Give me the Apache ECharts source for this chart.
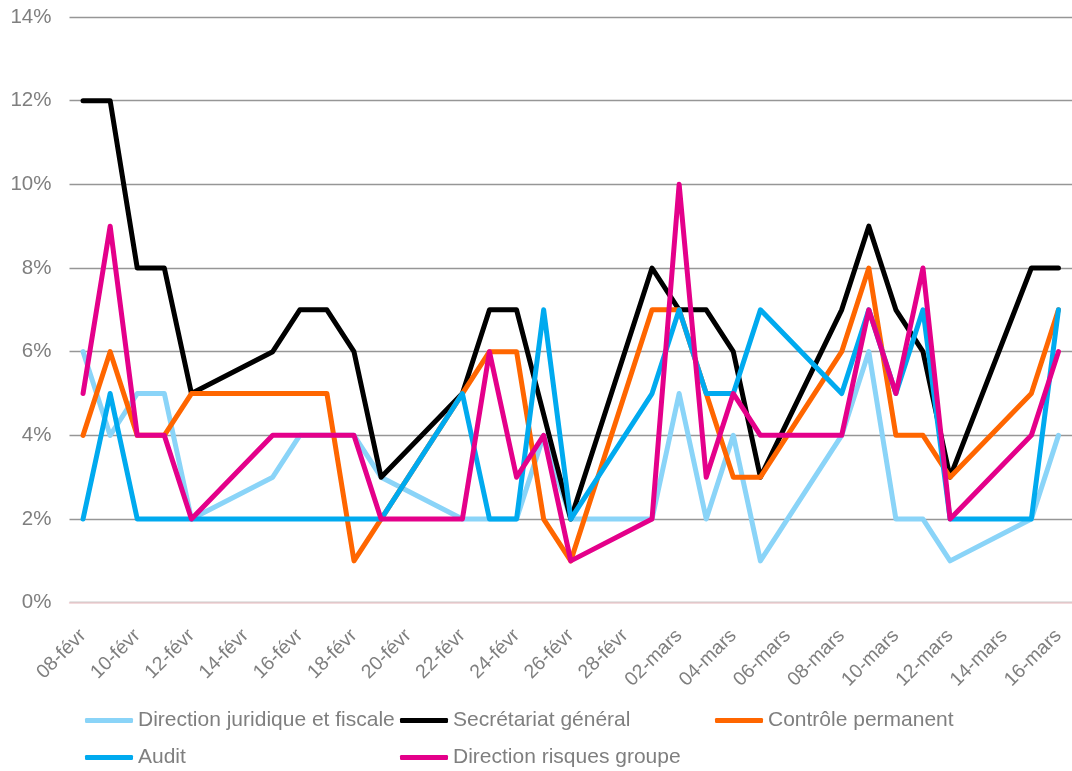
<!DOCTYPE html>
<html>
<head>
<meta charset="utf-8">
<script src="https://cdn.jsdelivr.net/npm/echarts@6/dist/echarts.min.js"></script>
<style>
  html, body { margin: 0; padding: 0; background: #fff; }
  #chart { width: 1072px; height: 771px; }
</style>
</head>
<body>
<div id="chart"></div>
<script>
// one label per calendar day, weekends have no value
const days = [
  '08-févr', '09-févr', '10-févr', '11-févr', '12-févr', '13-févr', '14-févr',
  '15-févr', '16-févr', '17-févr', '18-févr', '19-févr', '20-févr', '21-févr',
  '22-févr', '23-févr', '24-févr', '25-févr', '26-févr', '27-févr', '28-févr',
  '01-mars', '02-mars', '03-mars', '04-mars', '05-mars', '06-mars', '07-mars',
  '08-mars', '09-mars', '10-mars', '11-mars', '12-mars', '13-mars', '14-mars',
  '15-mars', '16-mars'
];

const n = null;
const juridique = [6, 4, 5, 5, 2, n, n, 3, 4, 4, 4, 3, n, n, 2, 2, 2, 4, 2, n, n, 2, 5, 2, 4, 1, n, n, 4, 6, 2, 2, 1, n, n, 2, 4];
const secretariat = [12, 12, 8, 8, 5, n, n, 6, 7, 7, 6, 3, n, n, 5, 7, 7, 4.5, 2, n, n, 8, 7, 7, 6, 3, n, n, 7, 9, 7, 6, 3, n, n, 8, 8];
const controle = [4, 6, 4, 4, 5, n, n, 5, 5, 5, 1, 2, n, n, 5, 6, 6, 2, 1, n, n, 7, 7, 5, 3, 3, n, n, 6, 8, 4, 4, 3, n, n, 5, 7];
const audit = [2, 5, 2, 2, 2, n, n, 2, 2, 2, 2, 2, n, n, 5, 2, 2, 7, 2, n, n, 5, 7, 5, 5, 7, n, n, 5, 7, 5, 7, 2, n, n, 2, 7];
const risques = [5, 9, 4, 4, 2, n, n, 4, 4, 4, 4, 2, n, n, 2, 6, 3, 4, 1, n, n, 2, 10, 3, 5, 4, n, n, 4, 7, 5, 8, 2, n, n, 4, 6];

const seriesNames = [
  'Direction juridique et fiscale',
  'Secrétariat général',
  'Contrôle permanent',
  'Audit',
  'Direction risques groupe'
];
const seriesValues = [juridique, secretariat, controle, audit, risques];
const colors = ['#8ad4f8', '#000000', '#ff6600', '#00aaef', '#e4008a'];

const font = "'Liberation Sans', Arial, sans-serif";
const grey = '#7f7f7f';

const chart = echarts.init(document.getElementById('chart'));

// legend laid out like the excel one: fixed columns
const legendPos = [
  { left: 85, top: 710 },
  { left: 400, top: 710 },
  { left: 715, top: 710 },
  { left: 85, top: 747 },
  { left: 400, top: 747 }
];
const legends = seriesNames.map(function (name, i) {
  return {
    data: [{ name: name, icon: 'roundRect' }],
    left: legendPos[i].left,
    top: legendPos[i].top,
    padding: 0,
    itemWidth: 48,
    itemHeight: 5,
    selectedMode: false,
    textStyle: { fontFamily: font, fontSize: 21, color: grey }
  };
});

const option = {
  animation: false,
  color: colors,
  legend: legends,
  grid: {
    left: 69.5,
    right: -7.5,
    top: 17,
    bottom: 168.3,
    containLabel: false
  },
  xAxis: {
    type: 'category',
    data: days,
    boundaryGap: true,
    axisLine: { lineStyle: { color: '#f9d9dc', width: 1.5 } },
    axisTick: { interval: 1, length: 5, lineStyle: { color: '#f9d9dc', width: 1.5 } },
    axisLabel: {
      interval: 1,
      rotate: 45,
      margin: 30,
      fontFamily: font,
      fontSize: 19.5,
      color: grey
    }
  },
  yAxis: {
    type: 'value',
    min: 0,
    max: 14,
    interval: 2,
    axisLine: { show: false },
    axisTick: { show: false },
    axisLabel: {
      formatter: '{value}%',
      margin: 18,
      fontFamily: font,
      fontSize: 20.5,
      color: grey
    },
    splitLine: { lineStyle: { color: '#969696', width: 1.3 } }
  },
  series: seriesNames.map(function (name, i) {
    return {
      name: name,
      type: 'line',
      data: seriesValues[i],
      connectNulls: true,
      symbol: 'none',
      lineStyle: { width: 5, color: colors[i], cap: 'round', join: 'round' }
    };
  })
};

chart.setOption(option);
</script>
</body>
</html>
